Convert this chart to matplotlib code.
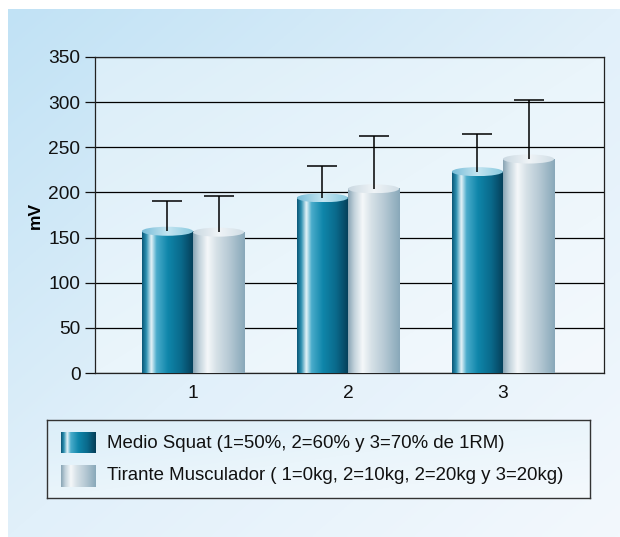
import numpy as np
import matplotlib
matplotlib.use('Agg')
import matplotlib.pyplot as plt
from matplotlib.colors import LinearSegmentedColormap
from matplotlib.patches import Ellipse

plt.rcParams['font.family'] = ['Liberation Sans', 'DejaVu Sans']

# data
groups = [1, 2, 3]
squat_mean = [157, 194, 223]
squat_err = [33, 35, 42]
tirante_mean = [156, 204, 237]
tirante_err = [40, 58, 65]
labels = ['Medio Squat (1=50%, 2=60% y 3=70% de 1RM)',
          'Tirante Musculador ( 1=0kg, 2=10kg, 2=20kg y 3=20kg)']

blue_cmap = LinearSegmentedColormap.from_list('blue', [
    (0.0, '#0b5676'), (0.08, '#2b8fb0'), (0.18, '#e4f3f8'), (0.28, '#4aaccb'),
    (0.5, '#0f86aa'), (0.75, '#0a6a8c'), (1.0, '#053d57')])
gray_cmap = LinearSegmentedColormap.from_list('gray', [
    (0.0, '#88a4b4'), (0.12, '#c2d2db'), (0.28, '#f5f8fa'), (0.45, '#d6e1e7'),
    (0.7, '#b6c9d4'), (1.0, '#88a8b9')])
blue_top = LinearSegmentedColormap.from_list('btop', ['#78bdd8', '#c4e5f1', '#86c8de'])
gray_top = LinearSegmentedColormap.from_list('gtop', ['#cad8e1', '#eff4f7', '#d0dde5'])

W, H = 620, 537
fig = plt.figure(figsize=(W / 100, H / 100), dpi=100)
fig.patch.set_facecolor('white')

# outer panel gradient
bg = fig.add_axes([0, 0, 1, 1])
bg.set_xlim(0, W)
bg.set_ylim(H, 0)
bg.axis('off')
xx, yy = np.meshgrid(np.linspace(0, 1, 200), np.linspace(0, 1, 200))
t = (xx + yy) / 2
panel = LinearSegmentedColormap.from_list('panel', ['#c1e2f5', '#e1f0fa', '#f3f8fd'])
bg.imshow(panel(t), extent=[8, W, H, 9], aspect='auto', interpolation='bilinear')

# main axes
ax = fig.add_axes([95 / W, (H - 373) / H, 509 / W, 316 / H])
ax.patch.set_alpha(0)
inner = LinearSegmentedColormap.from_list('inner', ['#dbeef9', '#eaf5fb', '#f4f9fd'])
ax.imshow(inner(t), extent=[0, 1, 0, 1], transform=ax.transAxes, aspect='auto',
          interpolation='bilinear', zorder=0)

xlim = (0.368, 3.652)
ylim = (0, 350)
bw = 0.33
grad = np.linspace(0, 1, 256).reshape(1, -1)
top_h = 10


def draw_cyl(xc, h, body, top):
    x0, x1 = xc - bw / 2, xc + bw / 2
    ax.imshow(grad, cmap=body, extent=[x0, x1, 0, h], aspect='auto',
              interpolation='bilinear', zorder=3)
    ell = Ellipse((xc, h), bw, top_h, facecolor='none', edgecolor='none', zorder=4)
    ax.add_patch(ell)
    im = ax.imshow(grad, cmap=top, extent=[x0, x1, h - top_h / 2, h + top_h / 2],
                   aspect='auto', interpolation='bilinear', zorder=4)
    im.set_clip_path(ell)


for g, m1, m2 in zip(groups, squat_mean, tirante_mean):
    draw_cyl(g - bw / 2, m1, blue_cmap, blue_top)
    draw_cyl(g + bw / 2, m2, gray_cmap, gray_top)

xs1 = [g - bw / 2 for g in groups]
xs2 = [g + bw / 2 for g in groups]
for xs, means, errs in [(xs1, squat_mean, squat_err), (xs2, tirante_mean, tirante_err)]:
    eb = ax.errorbar(xs, means, yerr=[np.zeros(3), errs], fmt='none',
                     ecolor='black', elinewidth=1.1, capsize=10.5, capthick=1.1, zorder=5)
    # only the upper cap is drawn in the reference
    eb[1][0].set_visible(False)

ax.set_xlim(*xlim)
ax.set_ylim(*ylim)
ax.set_yticks(range(0, 351, 50))
ax.set_xticks(groups)
ax.yaxis.grid(True, color='black', linewidth=0.9)
ax.set_axisbelow(True)
for s in ax.spines.values():
    s.set_color('#222222')
    s.set_linewidth(0.9)
ax.tick_params(axis='y', length=7, width=0.9, pad=3.5, labelsize=13.8, colors='#111111')
ax.tick_params(axis='x', length=0, pad=9, labelsize=13.8, colors='#111111')
ax.set_ylabel('mV', fontsize=12.5, fontweight='bold', labelpad=4)

# legend box
lg = fig.add_axes([46.6 / W, (H - 498) / H, (590 - 46.6) / W, 78 / H])
lg.set_xticks([])
lg.set_yticks([])
lg.imshow(inner(t), extent=[46.6, 590, 498, 420], aspect='auto', interpolation='bilinear')
for s in lg.spines.values():
    s.set_color('#333333')
    s.set_linewidth(1)
lg.imshow(grad, cmap=blue_cmap, extent=[61, 96, 453, 432], aspect='auto')
lg.imshow(grad, cmap=gray_cmap, extent=[61, 96, 487, 465], aspect='auto')
lg.set_xlim(46.6, 590)
lg.set_ylim(498, 420)
lg.text(107, 443, labels[0], fontsize=13.4, va='center', ha='left', color='#111111')
lg.text(107, 476, labels[1], fontsize=13.4, va='center', ha='left', color='#111111')

fig.savefig('out.png', dpi=100)
